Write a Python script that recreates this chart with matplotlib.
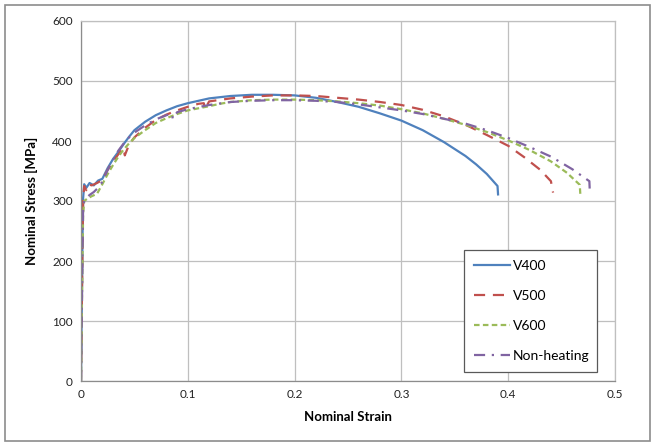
import matplotlib
matplotlib.use("Agg")
import matplotlib.pyplot as plt
from matplotlib.patches import Rectangle

plt.rcParams['font.family'] = ['Lato', 'DejaVu Sans']

# ---- data ----
v400_strain = [0, 0.0015, 0.002, 0.003, 0.005, 0.008, 0.012, 0.016, 0.02, 0.025, 0.03, 0.035, 0.04, 0.045,
               0.05, 0.06, 0.07, 0.08, 0.09, 0.1, 0.11, 0.12, 0.14, 0.16, 0.18, 0.2, 0.22, 0.24, 0.26,
               0.28, 0.3, 0.32, 0.34, 0.36, 0.37, 0.38, 0.39, 0.3905]
v400_stress = [0, 250, 305, 328, 322, 330, 326, 334, 337, 355, 370, 382, 395, 407,
               418, 432, 443, 451, 458, 463, 467, 471, 475, 477, 477, 476, 472, 465, 457,
               446, 434, 418, 398, 375, 361, 345, 325, 311]

v500_strain = [0, 0.0015, 0.002, 0.003, 0.005, 0.007, 0.01, 0.015, 0.02, 0.025, 0.03, 0.035, 0.04, 0.041,
               0.045, 0.05, 0.06, 0.07, 0.08, 0.09, 0.1, 0.11, 0.115, 0.116, 0.12, 0.14, 0.16, 0.18,
               0.2, 0.22, 0.24, 0.26, 0.28, 0.3, 0.32, 0.34, 0.36, 0.38, 0.4, 0.415, 0.43, 0.44, 0.442]
v500_stress = [0, 240, 300, 325, 318, 328, 326, 330, 335, 352, 366, 378, 388, 376,
               394, 406, 422, 435, 444, 451, 457, 462, 463, 453, 466, 471, 474, 476,
               476, 475, 472, 469, 465, 460, 452, 441, 427, 410, 392, 373, 352, 333, 314]

v600_strain = [0, 0.0015, 0.002, 0.003, 0.006, 0.01, 0.015, 0.02, 0.025, 0.03, 0.035, 0.04, 0.045, 0.05,
               0.06, 0.07, 0.08, 0.09, 0.1, 0.12, 0.13, 0.14, 0.16, 0.18, 0.2, 0.22, 0.24, 0.26,
               0.28, 0.3, 0.32, 0.34, 0.36, 0.38, 0.4, 0.42, 0.44, 0.455, 0.467, 0.4675]
v600_stress = [0, 220, 280, 300, 304, 308, 312, 328, 345, 360, 374, 386, 396, 405,
               418, 430, 438, 445, 451, 458, 462, 465, 468, 469, 469, 468, 466, 463,
               459, 453, 446, 437, 427, 415, 401, 385, 366, 347, 327, 312]

nh_strain = [0, 0.0015, 0.002, 0.003, 0.005, 0.008, 0.012, 0.016, 0.02, 0.025, 0.03, 0.035, 0.04, 0.045,
             0.05, 0.06, 0.07, 0.08, 0.085, 0.086, 0.09, 0.1, 0.12, 0.14, 0.16, 0.18, 0.2, 0.22,
             0.24, 0.26, 0.28, 0.3, 0.32, 0.34, 0.36, 0.38, 0.4, 0.42, 0.44, 0.46, 0.472, 0.476, 0.4765]
nh_stress = [0, 230, 290, 300, 305, 310, 315, 322, 332, 352, 368, 384, 396, 406,
             414, 426, 436, 443, 446, 437, 448, 453, 460, 465, 467, 468, 468, 467,
             465, 461, 456, 451, 445, 437, 429, 418, 405, 390, 374, 353, 338, 333, 312]

labels = ['V400', 'V500', 'V600', 'Non-heating']
colors = ['#4F81BD', '#C0504D', '#9BBB59', '#8064A2']
x_ticks = [0, 0.1, 0.2, 0.3, 0.4, 0.5]
x_ticklabels = ['0', '0.1', '0.2', '0.3', '0.4', '0.5']
y_ticks = [0, 100, 200, 300, 400, 500, 600]

fig = plt.figure(figsize=(6.56, 4.45), dpi=100)
ax = fig.add_axes([81/656, 64/445, 534/656, 360/445])

# outer frame
fig.patches.append(Rectangle((5/656, 4/445), 645/656, 436/445, transform=fig.transFigure,
                             fill=False, edgecolor='#8c8c8c', linewidth=1.2))

lw = 1.6
ax.plot(v400_strain, v400_stress, color=colors[0], lw=lw, ls='-', label=labels[0])
ax.plot(v500_strain, v500_stress, color=colors[1], lw=lw, ls=(0, (5, 3.5)), label=labels[1])
ax.plot(v600_strain, v600_stress, color=colors[2], lw=lw, ls=(0, (2.5, 1.5)), label=labels[2])
ax.plot(nh_strain, nh_stress, color=colors[3], lw=lw, ls=(0, (5, 3, 1, 3)), label=labels[3])

ax.set_xlim(0, 0.5)
ax.set_ylim(0, 600)
ax.set_xticks(x_ticks)
ax.set_xticklabels(x_ticklabels)
ax.set_yticks(y_ticks)
ax.grid(True, color='#bfbfbf', lw=0.9)
ax.set_axisbelow(True)
for s in ax.spines.values():
    s.set_color('#bfbfbf')
    s.set_linewidth(0.9)
ax.spines['left'].set_color('#8c8c8c')
ax.spines['bottom'].set_color('#8c8c8c')
ax.tick_params(length=0, labelsize=8.5, pad=6, colors='#222222')

ax.set_xlabel('Nominal Strain', fontsize=9.5, fontweight='bold', labelpad=8)
ax.set_ylabel('Nominal Stress [MPa]', fontsize=9.5, fontweight='bold', labelpad=10)

leg = ax.legend(loc='lower left', bbox_to_anchor=(0.717, 0.025, 0.249, 0.342), mode='expand',
                borderaxespad=0, fontsize=10, handlelength=2.65, handletextpad=0.15,
                labelspacing=1.3, borderpad=0.7, fancybox=False, framealpha=1,
                edgecolor='#595959')
leg.get_frame().set_linewidth(0.9)

fig.savefig('out.png', dpi=100)
